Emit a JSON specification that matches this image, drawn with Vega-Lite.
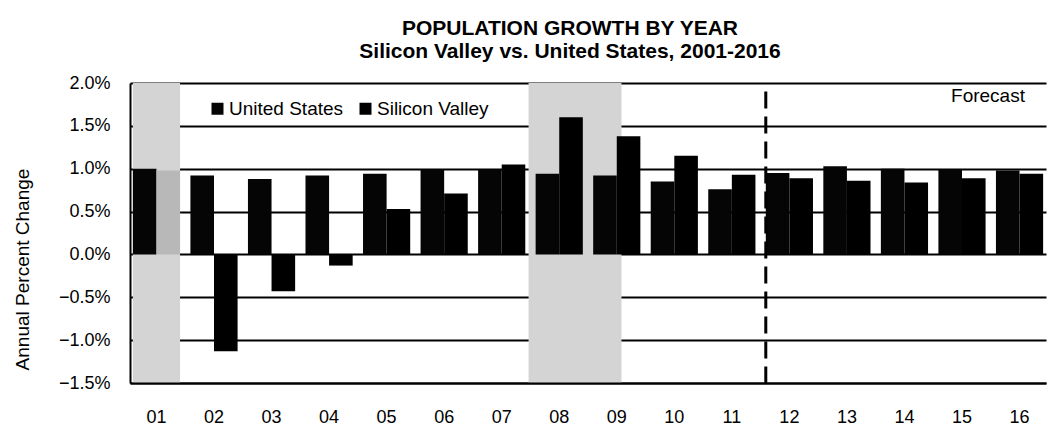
{
  "$schema": "https://vega.github.io/schema/vega-lite/v6.json",
  "width": 916,
  "height": 300,
  "autosize": {"type": "none"},
  "padding": {"left": 130, "top": 83, "right": 4, "bottom": 54},
  "background": "white",
  "config": {
    "font": "Liberation Sans",
    "view": {"stroke": null}
  },
  "title": {
    "text": "POPULATION GROWTH  BY YEAR",
    "subtitle": "Silicon Valley vs. United States, 2001-2016",
    "font": "Liberation Sans",
    "fontSize": 21,
    "fontWeight": "bold",
    "subtitleFont": "Liberation Sans",
    "subtitleFontSize": 21,
    "subtitleFontWeight": "bold",
    "subtitleColor": "black",
    "color": "black",
    "anchor": "middle",
    "dx": -18,
    "offset": 12,
    "subtitlePadding": 2
  },
  "datasets": {
    "growth": [
      {"year": "01", "series": "United States", "value": 1.0},
      {"year": "02", "series": "United States", "value": 0.92},
      {"year": "03", "series": "United States", "value": 0.88},
      {"year": "04", "series": "United States", "value": 0.92},
      {"year": "05", "series": "United States", "value": 0.94},
      {"year": "06", "series": "United States", "value": 0.99},
      {"year": "07", "series": "United States", "value": 0.99},
      {"year": "08", "series": "United States", "value": 0.94},
      {"year": "09", "series": "United States", "value": 0.92},
      {"year": "10", "series": "United States", "value": 0.85},
      {"year": "11", "series": "United States", "value": 0.76},
      {"year": "12", "series": "United States", "value": 0.95},
      {"year": "13", "series": "United States", "value": 1.03},
      {"year": "14", "series": "United States", "value": 1.0},
      {"year": "15", "series": "United States", "value": 0.99},
      {"year": "16", "series": "United States", "value": 0.98},
      {"year": "01", "series": "Silicon Valley", "value": 0.98},
      {"year": "02", "series": "Silicon Valley", "value": -1.13},
      {"year": "03", "series": "Silicon Valley", "value": -0.43},
      {"year": "04", "series": "Silicon Valley", "value": -0.13},
      {"year": "05", "series": "Silicon Valley", "value": 0.53},
      {"year": "06", "series": "Silicon Valley", "value": 0.71},
      {"year": "07", "series": "Silicon Valley", "value": 1.05},
      {"year": "08", "series": "Silicon Valley", "value": 1.6},
      {"year": "09", "series": "Silicon Valley", "value": 1.38},
      {"year": "10", "series": "Silicon Valley", "value": 1.15},
      {"year": "11", "series": "Silicon Valley", "value": 0.93},
      {"year": "12", "series": "Silicon Valley", "value": 0.89},
      {"year": "13", "series": "Silicon Valley", "value": 0.86},
      {"year": "14", "series": "Silicon Valley", "value": 0.84},
      {"year": "15", "series": "Silicon Valley", "value": 0.89},
      {"year": "16", "series": "Silicon Valley", "value": 0.94}
    ],
    "recession": [
      {"period": "2001"}
    ],
    "recession2": [
      {"period": "2008-2009"}
    ],
    "note": [
      {"label": "Forecast"}
    ]
  },
  "data": {"name": "growth"},
  "encoding": {
    "x": {
      "field": "year",
      "type": "nominal",
      "sort": null,
      "scale": {
        "domain": ["01", "02", "03", "04", "05", "06", "07", "08", "09", "10", "11", "12", "13", "14", "15", "16"],
        "paddingInner": 0.18,
        "paddingOuter": 0.05
      },
      "axis": {
        "title": null,
        "labelAngle": 0,
        "labelFontSize": 18,
        "labelColor": "black",
        "labelPadding": 25,
        "ticks": false,
        "domainColor": "black",
        "domainWidth": 2
      }
    }
  },
  "layer": [
    {
      "data": {"name": "recession"},
      "mark": {"type": "rect", "color": "#d4d4d4"},
      "encoding": {
        "x": {"datum": "01", "bandPosition": 0},
        "x2": {"datum": "01", "bandPosition": 1},
        "y": {"datum": 2.0, "type": "quantitative"},
        "y2": {"datum": -1.5}
      }
    },
    {
      "data": {"name": "recession2"},
      "mark": {"type": "rect", "color": "#d4d4d4"},
      "encoding": {
        "x": {"datum": "08", "bandPosition": -0.15},
        "x2": {"datum": "09", "bandPosition": 0.6},
        "y": {"datum": 2.0, "type": "quantitative"},
        "y2": {"datum": -1.5}
      }
    },
    {
      "mark": {"type": "bar"},
      "encoding": {
        "xOffset": {"field": "series", "type": "nominal", "sort": ["United States", "Silicon Valley"], "scale": {"paddingInner": 0, "paddingOuter": 0}},
        "y": {
          "field": "value",
          "type": "quantitative",
          "scale": {"domain": [-1.5, 2.0], "nice": false, "zero": false},
          "axis": {
            "title": "Annual Percent Change",
            "titleFontSize": 19,
            "titleFontWeight": "normal",
            "titleColor": "black",
            "titlePadding": 26,
            "titleY": 186,
            "values": [-1.5, -1.0, -0.5, 0, 0.5, 1.0, 1.5, 2.0],
            "labelExpr": "format(datum.value, '.1f') + '%'",
            "labelFontSize": 18,
            "labelColor": "black",
            "labelPadding": 20,
            "ticks": false,
            "grid": true,
            "gridColor": "black",
            "gridWidth": 2,
            "gridOpacity": 1,
            "domainColor": "black",
            "domainWidth": 2
          }
        },
        "color": {
          "condition": {"test": "datum.year === '01' && datum.series === 'Silicon Valley'", "value": "#b8b8b8"},
          "field": "series",
          "type": "nominal",
          "sort": ["United States", "Silicon Valley"],
          "scale": {"domain": ["United States", "Silicon Valley"], "range": ["#050505", "#000000"]},
          "legend": {
            "title": null,
            "orient": "none",
            "direction": "horizontal",
            "legendX": 78,
            "legendY": 16,
            "symbolType": "square",
            "symbolSize": 144,
            "symbolOpacity": 1,
            "labelFontSize": 19,
            "labelColor": "black",
            "labelOffset": 2,
            "columnPadding": 12
          }
        }
      }
    },
    {
      "data": {"name": "note"},
      "mark": {"type": "rule", "strokeDash": [17, 8], "strokeWidth": 3, "color": "black"},
      "encoding": {
        "x": {"datum": "12", "bandPosition": 0},
        "y": {"datum": 1.9},
        "y2": {"datum": -1.5}
      }
    },
    {
      "data": {"name": "note"},
      "mark": {"type": "text", "fontSize": 19, "color": "black", "dx": 26},
      "encoding": {
        "text": {"field": "label"},
        "x": {"datum": "15"},
        "y": {"datum": 1.85}
      }
    }
  ]
}
